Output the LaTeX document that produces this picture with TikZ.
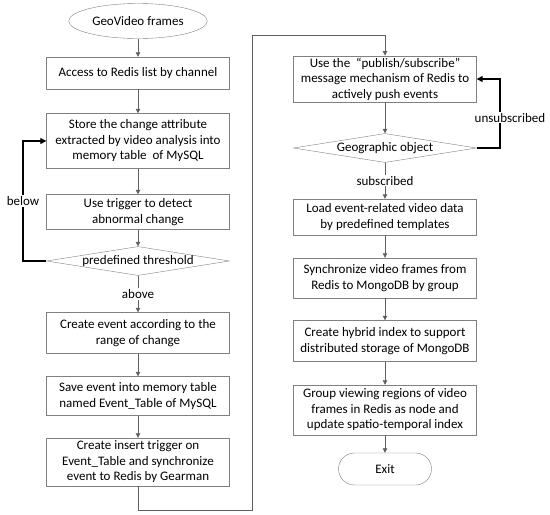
\documentclass[tikz,border=0pt]{standalone}
\usepackage{fontspec}
\setmainfont{Carlito}
\usetikzlibrary{arrows.meta, shapes.geometric}
\definecolor{BoxGray}{RGB}{128,128,128}
\definecolor{LineGray}{RGB}{96,96,96}

\begin{document}
\begin{tikzpicture}[x=1pt, y=-1pt,
    font=\fontsize{13}{15.5}\selectfont,
    box/.style={draw=BoxGray, fill=white, align=center, minimum width=183pt, inner sep=2pt},
    decision/.style={draw=BoxGray, fill=white, diamond, aspect=6.3, inner sep=0pt, minimum width=183pt, minimum height=29pt},
    arr/.style={LineGray, line width=0.8pt, -{Triangle[width=4.5pt,length=4.5pt]}},
    backarr/.style={black, line width=1.2pt, -{Triangle[width=6pt,length=6pt]}},
    lbl/.style={fill=white, text=black, inner sep=1pt}]
    \useasboundingbox (0,0) rectangle (550,515);

    % Left column
    \node[ellipse, draw=BoxGray, minimum width=135pt, minimum height=35pt] (geo) at (138,21) {GeoVideo frames};
    \node[box, minimum height=32pt] (access) at (138,73) {Access to Redis list by channel};
    \node[box, minimum height=55pt] (store) at (138,141) {Store the change attribute\\extracted by video analysis into\\memory table \ of MySQL};
    \node[box, minimum height=35pt] (trig) at (138,212) {Use trigger to detect\\abnormal change};
    \node[decision] (thr) at (138,261) {predefined threshold};
    \node[box, minimum height=41pt] (evt) at (138,333) {Create event according to the\\range of change};
    \node[box, minimum height=39pt] (save) at (138,396) {Save event into memory table\\named Event\_Table of MySQL};
    \node[box, minimum height=48pt] (ins) at (138,462) {Create insert trigger on\\Event\_Table and synchronize\\event to Redis by Gearman};

    % Right column
    \node[box, minimum height=43pt] (pub) at (385,79) {Use the \ “publish/subscribe”\\message mechanism of Redis to\\actively push events};
    \node[decision] (obj) at (385,148) {Geographic object};
    \node[box, minimum height=36pt] (load) at (385,217) {Load event-related video data\\by predefined templates};
    \node[box, minimum height=40pt] (sync) at (385,278) {Synchronize video frames from\\Redis to MongoDB by group};
    \node[box, minimum height=41pt] (hyb) at (385,341) {Create hybrid index to support\\distributed storage of MongoDB};
    \node[box, minimum height=50pt] (grp) at (385,410) {Group viewing regions of video\\frames in Redis as node and\\update spatio-temporal index};
    \node[draw=BoxGray, rounded corners=16pt, minimum width=93pt, minimum height=32pt] (exit) at (385,469) {Exit};

    % Corners of the connectors
    \coordinate (lb) at (23,261);
    \coordinate (c1) at (252,510);
    \coordinate (c2) at (252,35);
    \coordinate (ub) at (500,148);

    % Flow
    \draw[arr] (geo) -- (access);
    \draw[arr] (access) -- (store);
    \draw[arr] (store) -- (trig);
    \draw[arr] (trig) -- (thr);
    \draw[arr] (thr) -- node[lbl] {above} (evt);
    \draw[arr] (evt) -- (save);
    \draw[arr] (save) -- (ins);
    \draw[arr] (ins.south) |- (c1) -- (c2) -| (pub.north);
    \draw[arr] (pub) -- (obj);
    \draw[arr] (obj) -- node[lbl] {subscribed} (load);
    \draw[arr] (load) -- (sync);
    \draw[arr] (sync) -- (hyb);
    \draw[arr] (hyb) -- (grp);
    \draw[arr] (grp) -- (exit);

    % Loops back
    \draw[backarr] (thr.west) -- (lb) |- node[lbl, pos=0.25] {below} (store.west);
    \draw[backarr] (obj.east) -- (ub) |- node[lbl, pos=0.22, xshift=10pt] {unsubscribed} (pub.east);
\end{tikzpicture}
\end{document}
